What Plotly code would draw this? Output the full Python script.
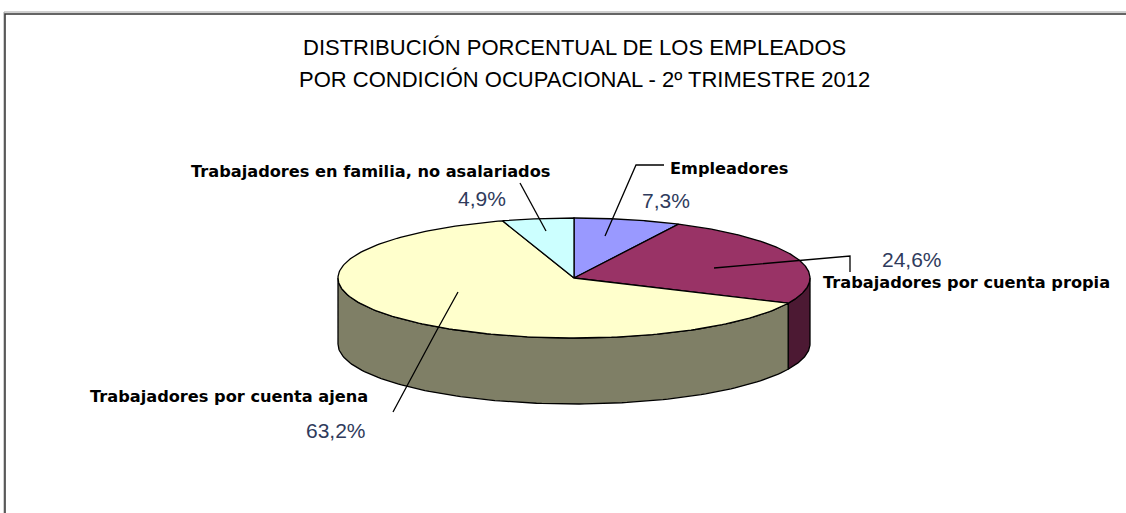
import numpy as np
import plotly.graph_objects as go

# ---------------- data ----------------
categories = [
    "Empleadores",
    "Trabajadores por cuenta propia",
    "Trabajadores por cuenta ajena",
    "Trabajadores en familia, no asalariados",
]
values = [7.3, 24.6, 63.2, 4.9]
pct_labels = ["7,3%", "24,6%", "63,2%", "4,9%"]
title_lines = [
    "DISTRIBUCIÓN PORCENTUAL DE LOS EMPLEADOS",
    "POR CONDICIÓN OCUPACIONAL - 2º TRIMESTRE 2012",
]

# ---------------- styles / layout ----------------
top_colors = ["#9999FF", "#993366", "#FFFFCC", "#CCFFFF"]
CX, CY, RX, RY, DEPTH = 574, 278, 236, 60, 66
W, H = 1126, 513
EDGE = dict(color="#000000", width=1.3)

# label placement (pixels): name label, percent label, leader polyline
label_layout = {
    0: dict(name=(668, 168, "left"), pct=(666, 200, "center"),
            leader=[(664, 165), (636, 165), (605, 236)]),
    1: dict(name=(821, 282, "left"), pct=(912, 259, "center"),
            leader=[(714, 268), (850, 256), (850, 272)]),
    2: dict(name=(370, 396, "right"), pct=(368, 430, "right"),
            leader=[(458, 292), (437, 330), (393, 412)]),
    3: dict(name=(552, 171, "right"), pct=(508, 198, "right"),
            leader=[(520, 183), (546, 231)]),
}


def darken(hex_color, f=0.5):
    h = hex_color.lstrip("#")
    r, g, b = (int(h[i:i + 2], 16) for i in (0, 2, 4))
    return "#%02X%02X%02X" % (int(r * f), int(g * f), int(b * f))


def ell(theta_deg, dy=0.0):
    t = np.radians(theta_deg)
    return CX + RX * np.sin(t), CY - RY * np.cos(t) + dy


total = float(sum(values))
bounds = np.concatenate([[0.0], np.cumsum(values) / total * 360.0])

fig = go.Figure()

# side walls (front half only: 90..270 deg clockwise from top)
for i, v in enumerate(values):
    lo, hi = max(bounds[i], 90.0), min(bounds[i + 1], 270.0)
    if lo >= hi:
        continue
    th = np.linspace(lo, hi, 120)
    xt, yt = ell(th)
    xb, yb = ell(th[::-1], DEPTH)
    xs = np.concatenate([xt, xb, xt[:1]])
    ys = np.concatenate([yt, yb, yt[:1]])
    fig.add_trace(go.Scatter(x=xs, y=ys, mode="lines", fill="toself",
                             fillcolor=darken(top_colors[i]), line=EDGE,
                             hoverinfo="skip", showlegend=False))

# top faces
for i, v in enumerate(values):
    th = np.linspace(bounds[i], bounds[i + 1], 200)
    xa, ya = ell(th)
    xs = np.concatenate([[CX], xa, [CX]])
    ys = np.concatenate([[CY], ya, [CY]])
    fig.add_trace(go.Scatter(x=xs, y=ys, mode="lines", fill="toself",
                             fillcolor=top_colors[i], line=EDGE,
                             hoverinfo="skip", showlegend=False,
                             name=categories[i]))

# leader lines
for i in range(len(values)):
    pts = label_layout[i]["leader"]
    fig.add_trace(go.Scatter(x=[p[0] for p in pts], y=[p[1] for p in pts],
                             mode="lines", line=dict(color="#000000", width=1.3),
                             hoverinfo="skip", showlegend=False))

annotations = []
for i, cat in enumerate(categories):
    lx, ly, la = label_layout[i]["name"]
    annotations.append(dict(x=lx, y=ly, xref="x", yref="y", text="<b>%s</b>" % cat,
                            showarrow=False, xanchor=la, yanchor="middle",
                            font=dict(family="DejaVu Sans", size=16.2, color="#000000")))
    px, py, pa = label_layout[i]["pct"]
    annotations.append(dict(x=px, y=py, xref="x", yref="y", text=pct_labels[i],
                            showarrow=False, xanchor=pa, yanchor="middle",
                            font=dict(family="Liberation Sans, Arial", size=21, color="#2F3B5C")))

for j, (tx, ty) in enumerate([(574, 47), (584, 79)]):
    annotations.append(dict(x=tx, y=ty, xref="x", yref="y", text=title_lines[j],
                            showarrow=False, xanchor="center", yanchor="middle",
                            font=dict(family="Liberation Sans, Arial", size=22, color="#000000")))

# chart frame: top and left edges only (the rest is cropped in the original)
shapes = [
    dict(type="path", xref="x", yref="y",
         path="M 4 %d L 4 12 L %d 12" % (H + 5, W + 5),
         line=dict(color="#A0A0A0", width=1)),
    dict(type="path", xref="x", yref="y",
         path="M 5 %d L 5 14 L %d 14" % (H + 5, W + 5),
         line=dict(color="#333333", width=1.5)),
]

fig.update_layout(
    width=W, height=H, autosize=False,
    margin=dict(l=0, r=0, t=0, b=0, pad=0),
    paper_bgcolor="#FFFFFF", plot_bgcolor="#FFFFFF",
    xaxis=dict(range=[0, W], visible=False, fixedrange=True),
    yaxis=dict(range=[H, 0], visible=False, fixedrange=True),
    annotations=annotations, shapes=shapes, showlegend=False,
)

fig.write_html("out.html", config={"displayModeBar": False})
